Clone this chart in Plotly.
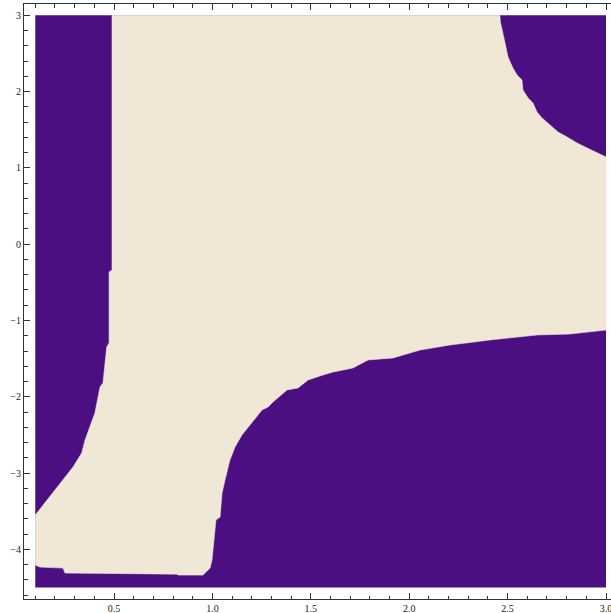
import plotly.graph_objects as go

# Plot domain of the region plot
x_domain = [0.1, 3.0]
y_domain = [-4.5, 3.0]

# Boundary of the light (beige) region, traced clockwise
region_x = [0.490, 2.461, 2.463, 2.477, 2.487, 2.502, 2.527, 2.548, 2.573, 2.578,
            2.604, 2.629, 2.649, 2.675, 2.715, 2.756, 2.802, 2.853, 2.904, 2.954,
            2.995, 3.000,
            3.000, 2.817, 2.649, 2.411, 2.207, 2.055, 1.918, 1.791, 1.714, 1.613,
            1.562, 1.486, 1.435, 1.379, 1.308, 1.283, 1.252, 1.201, 1.150, 1.115,
            1.089, 1.064, 1.049, 1.039, 1.018, 0.998, 0.988, 0.952, 0.825, 0.820,
            0.251, 0.241, 0.124, 0.100,
            0.100, 0.160, 0.241, 0.292, 0.336, 0.353, 0.403, 0.429, 0.444, 0.463,
            0.475, 0.475, 0.490]
region_y = [3.000, 3.000, 2.916, 2.768, 2.637, 2.454, 2.309, 2.218, 2.152, 2.021,
            1.916, 1.851, 1.733, 1.654, 1.562, 1.470, 1.405, 1.326, 1.261, 1.196,
            1.143, 1.143,
            -1.125, -1.177, -1.190, -1.255, -1.321, -1.387, -1.491, -1.517, -1.622, -1.675,
            -1.714, -1.779, -1.884, -1.910, -2.068, -2.133, -2.173, -2.330, -2.501, -2.658,
            -2.829, -3.091, -3.261, -3.576, -3.615, -4.140, -4.245, -4.337, -4.337, -4.324,
            -4.310, -4.245, -4.232, -4.206,
            -3.550, -3.353, -3.091, -2.920, -2.737, -2.567, -2.213, -1.872, -1.820, -1.348,
            -1.295, -0.364, -0.338]

x_ticks = [0.5, 1.0, 1.5, 2.0, 2.5, 3.0]
x_tick_labels = ["0.5", "1.0", "1.5", "2.0", "2.5", "3.0"]
y_ticks = [-4, -3, -2, -1, 0, 1, 2, 3]
y_tick_labels = ["\u22124", "\u22123", "\u22122", "\u22121", "0", "1", "2", "3"]

PURPLE = "rgb(75,15,129)"
BEIGE = "rgb(240,231,214)"

fig = go.Figure()
fig.add_trace(go.Scatter(
    x=[x_domain[0], x_domain[1], x_domain[1], x_domain[0], x_domain[0]],
    y=[y_domain[0], y_domain[0], y_domain[1], y_domain[1], y_domain[0]],
    mode="lines", fill="toself", fillcolor=PURPLE,
    line=dict(width=0, color=PURPLE), hoverinfo="skip", showlegend=False))
fig.add_trace(go.Scatter(
    x=region_x + [region_x[0]], y=region_y + [region_y[0]],
    mode="lines", fill="toself", fillcolor=BEIGE,
    line=dict(width=0.6, color=BEIGE), hoverinfo="skip", showlegend=False))

axis_common = dict(
    showgrid=False, zeroline=False, showline=True, linecolor="#333",
    linewidth=1, ticks="inside", ticklen=6, tickcolor="#333", tickwidth=1,
    tickfont=dict(family="Liberation Serif", size=10, color="#222"),
    ticklabeloverflow="allow",
)
fig.update_xaxes(range=[0.0427, 3.0254], tickvals=x_ticks, ticktext=x_tick_labels,
                 mirror="ticks",
                 minor=dict(ticks="inside", dtick=0.1, tick0=0, ticklen=3.5,
                            tickcolor="#333"),
                 **axis_common)
fig.update_yaxes(range=[-4.650, 3.148], tickvals=y_ticks, ticktext=y_tick_labels,
                 mirror=False,
                 minor=dict(ticks="inside", dtick=0.2, tick0=0, ticklen=3.5,
                            tickcolor="#333"),
                 **axis_common)
fig.update_layout(width=611, height=613, margin=dict(l=24, r=0, t=4, b=14),
                  plot_bgcolor="white", paper_bgcolor="white")
fig.write_html("out.html")
